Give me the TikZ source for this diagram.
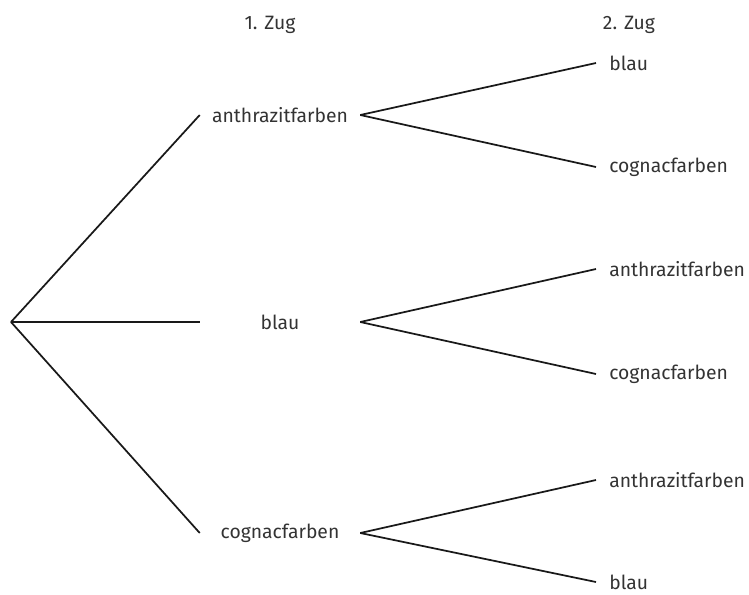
\documentclass[tikz,border=0pt]{standalone}
\usepackage{fontspec}
\setmainfont{Fira Sans}
\usepackage{tikz}
\usetikzlibrary{positioning}

\begin{document}
\begin{tikzpicture}[
  x=0.75pt, y=-0.75pt,
  every node/.style={font=\fontsize{14.5}{17}\selectfont, text=black!80},
  first/.style={minimum width=120pt, inner sep=0pt},
  second/.style={anchor=west, inner xsep=9.75pt, inner ysep=0pt},
  branch/.style={line width=1.3pt, black!90}
]
\useasboundingbox (0,0) rectangle (749,594);
\node (zug1) at (270,25) {1. Zug};
\node (zug2) at (629,25) {2. Zug};

\coordinate (root) at (11,322);
\node[first] (anth) at (280,115) {anthrazitfarben};
\node[first] (blau) at (280,322) {blau};
\node[first] (cogn) at (280,533) {cognacfarben};

\node[second] (anth-blau) at (596,63) {blau};
\node[second] (anth-cogn) at (596,167) {cognacfarben};
\node[second] (blau-anth) at (596,269) {anthrazitfarben};
\node[second] (blau-cogn) at (596,374) {cognacfarben};
\node[second] (cogn-anth) at (596,480) {anthrazitfarben};
\node[second] (cogn-blau) at (596,582) {blau};

\draw[branch] (root) -- (anth.west);
\draw[branch] (root) -- (blau.west);
\draw[branch] (root) -- (cogn.west);
\draw[branch] (anth.east) -- (anth-blau.west);
\draw[branch] (anth.east) -- (anth-cogn.west);
\draw[branch] (blau.east) -- (blau-anth.west);
\draw[branch] (blau.east) -- (blau-cogn.west);
\draw[branch] (cogn.east) -- (cogn-anth.west);
\draw[branch] (cogn.east) -- (cogn-blau.west);
\end{tikzpicture}
\end{document}
